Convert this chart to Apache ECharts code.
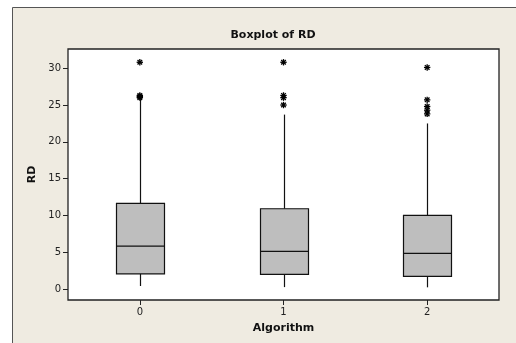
<!DOCTYPE html>
<html>
<head>
<meta charset="utf-8">
<script src="https://cdn.jsdelivr.net/npm/echarts@6/dist/echarts.min.js"></script>
<style>
  html, body { margin: 0; padding: 0; background: #fff; }
  #chart { width: 516px; height: 343px; }
</style>
</head>
<body>
<div id="chart"></div>
<script>
// ---- data ----
var categories = ['0', '1', '2'];
var lowWhisker = [0.45, 0.3, 0.27];
var q1 = [2.1, 2.03, 1.76];
var median = [5.87, 5.15, 4.88];
var q3 = [11.65, 10.93, 10.03];
var highWhisker = [25.8, 23.7, 22.5];
var outliers0 = [26.0, 26.15, 26.3, 30.8];
var outliers1 = [25.0, 26.0, 26.3, 30.8];
var outliers2 = [23.8, 24.3, 24.8, 25.7, 30.1];
var yTicks = [0, 5, 10, 15, 20, 25, 30];

var font = 'DejaVu Sans';

var boxData = categories.map(function (c, i) {
    return [i, lowWhisker[i], q1[i], median[i], q3[i], highWhisker[i]];
});
var outlierData = [];
[outliers0, outliers1, outliers2].forEach(function (list, i) {
    list.forEach(function (v) { outlierData.push([i, v]); });
});

function renderBox(params, api) {
    var x = api.value(0);
    var pLow = api.coord([x, api.value(1)]);
    var pQ1 = api.coord([x, api.value(2)]);
    var pMed = api.coord([x, api.value(3)]);
    var pQ3 = api.coord([x, api.value(4)]);
    var pHigh = api.coord([x, api.value(5)]);
    var half = 24;
    var cx = Math.round(pQ1[0]) + 0.5;
    var line = { stroke: '#111', lineWidth: 1.2 };
    return {
        type: 'group',
        children: [
            { type: 'line', shape: { x1: cx, y1: pLow[1], x2: cx, y2: pQ1[1] }, style: line },
            { type: 'line', shape: { x1: cx, y1: pQ3[1], x2: cx, y2: pHigh[1] }, style: line },
            { type: 'rect', shape: { x: cx - half, y: pQ3[1], width: half * 2, height: pQ1[1] - pQ3[1] },
              style: { fill: '#bebebe', stroke: '#111', lineWidth: 1.2 } },
            { type: 'line', shape: { x1: cx - half, y1: pMed[1], x2: cx + half, y2: pMed[1] }, style: line }
        ]
    };
}

function renderStar(params, api) {
    var p = api.coord([api.value(0), api.value(1)]);
    var r = 3.2, d = 2.3;
    var st = { stroke: '#000', lineWidth: 1.3 };
    return {
        type: 'group',
        children: [
            { type: 'line', shape: { x1: p[0] - r, y1: p[1], x2: p[0] + r, y2: p[1] }, style: st },
            { type: 'line', shape: { x1: p[0], y1: p[1] - r, x2: p[0], y2: p[1] + r }, style: st },
            { type: 'line', shape: { x1: p[0] - d, y1: p[1] - d, x2: p[0] + d, y2: p[1] + d }, style: st },
            { type: 'line', shape: { x1: p[0] - d, y1: p[1] + d, x2: p[0] + d, y2: p[1] - d }, style: st }
        ]
    };
}

var chart = echarts.init(document.getElementById('chart'));
var option = {
    backgroundColor: '#ffffff',
    animation: false,
    graphic: [{
        type: 'rect',
        z: -10,
        shape: { x: 12.5, y: 7.5, width: 600, height: 400 },
        style: { fill: '#efebe1', stroke: '#555', lineWidth: 1 }
    }],
    title: {
        text: 'Boxplot of RD',
        left: 268,
        top: 25,
        textAlign: 'center',
        textStyle: { fontFamily: font, fontSize: 11, fontWeight: 'bold', color: '#111' }
    },
    grid: {
        left: 68,
        right: 17,
        top: 49,
        bottom: 43,
        show: true,
        backgroundColor: '#ffffff',
        borderColor: '#222',
        borderWidth: 1.3
    },
    xAxis: {
        type: 'category',
        data: categories,
        boundaryGap: true,
        name: 'Algorithm',
        nameLocation: 'middle',
        nameGap: 23,
        nameTextStyle: { fontFamily: font, fontSize: 11, fontWeight: 'bold', color: '#111' },
        axisLine: { show: false, onZero: false },
        axisTick: { show: true, alignWithLabel: true, length: 5, inside: false, lineStyle: { color: '#222' } },
        axisLabel: { fontFamily: font, fontSize: 10, color: '#222', margin: 7 },
        splitLine: { show: false }
    },
    yAxis: {
        type: 'value',
        min: -1.45,
        max: 32.6,
        name: 'RD',
        nameLocation: 'middle',
        nameGap: 26,
        nameRotate: 90,
        nameTextStyle: { fontFamily: font, fontSize: 11, fontWeight: 'bold', color: '#111' },
        axisLine: { show: false, onZero: false },
        axisTick: { show: true, length: 5, customValues: yTicks, lineStyle: { color: '#222' } },
        axisLabel: { fontFamily: font, fontSize: 10, color: '#222', margin: 7, customValues: yTicks },
        splitLine: { show: false }
    },
    series: [{
        type: 'custom',
        renderItem: renderBox,
        data: boxData,
        encode: { x: 0, y: [1, 2, 3, 4, 5] }
    }, {
        type: 'custom',
        renderItem: renderStar,
        data: outlierData,
        encode: { x: 0, y: 1 }
    }]
};
chart.setOption(option);
</script>
</body>
</html>
